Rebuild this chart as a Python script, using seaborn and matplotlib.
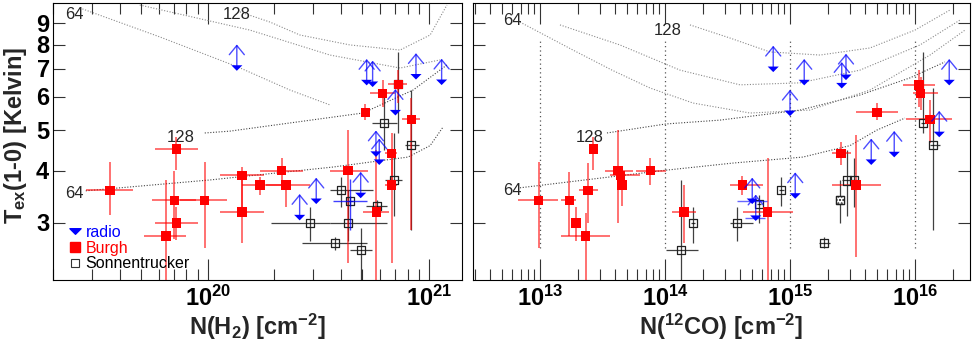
import numpy as np
import pandas as pd
import seaborn as sns
import matplotlib
matplotlib.use('Agg')
from matplotlib import pyplot as plt
from matplotlib.lines import Line2D
from matplotlib.path import Path
from matplotlib.ticker import FixedLocator, LogLocator, FuncFormatter, NullFormatter, NullLocator

# ---------------- left panel: N(H2) ----------------
h2_burgh_logN = [19.558, 19.857, 19.849, 19.985, 19.857, 19.810, 20.154, 20.154, 20.235, 20.333,
                 20.354, 20.633, 20.712, 20.790, 20.861, 20.920, 20.831, 20.831, 20.762]
h2_burgh_T = [3.59, 4.50, 3.40, 3.40, 3.00, 2.79, 3.90, 3.19, 3.70, 4.00,
              3.70, 4.00, 5.51, 6.12, 6.43, 5.30, 4.40, 3.70, 3.19]
h2_burgh_logN_lo = [19.448, 19.760, 19.747, 19.873, 19.760, 19.710, 20.054, 20.054, 20.154, 20.235,
                    20.265, 20.552, 20.695, 20.733, 20.814, 20.876, 20.801, 20.801, 20.703]
h2_burgh_logN_hi = [19.661, 19.955, 19.946, 20.086, 19.955, 19.900, 20.253, 20.253, 20.353, 20.430,
                    20.462, 20.724, 20.730, 20.846, 20.899, 20.959, 20.854, 20.854, 20.820]
h2_burgh_T_lo = [3.13, 4.01, 2.75, 2.62, 2.73, 2.15, 3.19, 2.69, 3.50, 3.74,
                 3.28, 2.41, 5.28, 5.69, 5.80, 2.89, 3.70, 2.41, 2.15]
h2_burgh_T_hi = [4.19, 4.81, 4.00, 4.19, 3.28, 3.80, 4.08, 3.90, 3.86, 4.29,
                 3.80, 5.00, 5.77, 6.58, 6.95, 5.96, 4.91, 4.40, 4.48]

h2_sonn_logN = [20.795, 20.920, 20.842, 20.763, 20.602, 20.643, 20.632, 20.575, 20.692, 20.462, 20.861]
h2_sonn_T = [5.20, 4.60, 3.80, 3.30, 3.59, 3.39, 3.00, 2.69, 2.59, 3.00, 6.43]
h2_sonn_logN_lo = [20.741, 20.891, 20.801, 20.715, 20.552, 20.630, 20.552, 20.424, 20.643, 20.284, 20.840]
h2_sonn_logN_hi = [20.854, 20.956, 20.876, 20.809, 20.747, 20.656, 20.809, 20.721, 20.741, 20.552, 20.880]
h2_sonn_T_lo = [4.48, 2.89, 3.11, 3.20, 3.28, 3.30, 2.71, 2.58, 2.15, 2.71, 4.91]
h2_sonn_T_hi = [6.00, 6.23, 4.91, 3.40, 3.87, 3.48, 3.59, 2.78, 2.92, 3.28, 7.69]

h2_radio_logN = [20.131, 20.718, 20.745, 20.941, 21.057, 20.848, 20.760, 20.775, 20.691, 20.415, 20.490]
h2_radio_T = [7.03, 6.49, 6.43, 6.70, 6.50, 5.50, 4.38, 4.19, 3.49, 3.09, 3.38]

h2_radio_det_logN = [20.643]
h2_radio_det_T = [3.39]
h2_radio_det_logN_lo = [20.564]
h2_radio_det_logN_hi = [20.718]
h2_radio_det_T_lo = [2.89]
h2_radio_det_T_hi = [3.81]

h2_curves_logN = [
    [19.448, 20.009, 20.566, 20.905, 21.005, 21.063],
    [19.986, 20.100, 20.701, 20.928, 21.081],
    [19.421, 19.783, 20.136, 20.371, 20.552],
    [20.145, 20.281, 20.416, 20.643, 20.869, 21.005, 21.081],
    [19.692, 20.190, 20.552, 20.869, 21.050],
]
h2_curves_T = [
    [3.58, 3.80, 4.08, 4.31, 4.59, 5.08],
    [4.92, 4.97, 5.49, 6.23, 7.15],
    [9.78, 8.34, 7.07, 6.23, 5.74],
    [9.57, 9.05, 8.43, 7.98, 7.76, 8.43, 9.94],
    [9.94, 8.66, 7.55, 7.03, 7.35],
]
h2_vline_logN = [20, 21]

h2_label_text = ['64', '128', '128', '64']
h2_label_logN = [19.398, 20.131, 19.878, 19.398]
h2_label_T = [9.46, 9.41, 4.81, 3.52]

# ---------------- right panel: N(12CO) ----------------
co_burgh_logN = [12.990, 13.234, 13.288, 13.366, 13.384, 13.426, 13.624, 13.642, 13.656, 13.882,
                 14.152, 14.618, 14.822, 15.408, 15.528, 15.696, 16.032, 16.046, 16.120]
co_burgh_T = [3.40, 3.40, 3.00, 2.79, 3.59, 4.50, 4.00, 3.90, 3.70, 4.00,
              3.19, 3.70, 3.19, 4.40, 3.70, 5.51, 6.41, 6.12, 5.30]
co_burgh_logN_lo = [12.824, 13.168, 13.248, 13.168, 13.312, 13.400, 13.518, 13.560, 13.620, 13.770,
                    14.058, 14.520, 14.626, 15.334, 15.334, 15.528, 15.906, 15.986, 15.928]
co_burgh_logN_hi = [13.144, 13.288, 13.328, 13.562, 13.464, 13.450, 13.744, 13.800, 13.690, 14.010,
                    14.246, 14.786, 15.022, 15.486, 15.726, 15.862, 16.160, 16.186, 16.294]
co_burgh_T_lo = [2.62, 2.79, 2.71, 2.15, 3.00, 4.01, 3.00, 3.70, 3.30, 3.70,
                 2.69, 3.50, 2.15, 4.13, 2.49, 5.27, 5.69, 5.58, 4.65]
co_burgh_T_hi = [4.19, 3.98, 3.28, 3.17, 4.17, 4.81, 5.00, 4.10, 3.87, 4.29,
                 3.70, 3.89, 4.28, 4.69, 4.87, 5.79, 6.95, 6.70, 5.90]

co_sonn_logN = [14.578, 14.752, 14.928, 15.400, 15.274, 15.454, 15.512, 16.066, 16.146, 14.130, 14.224]
co_sonn_T = [3.00, 3.33, 3.59, 3.40, 2.69, 3.79, 3.79, 5.20, 4.60, 2.59, 3.00]
co_sonn_logN_lo = [14.520, 14.735, 14.910, 15.385, 15.234, 15.420, 15.480, 16.050, 16.120, 14.006, 14.210]
co_sonn_logN_hi = [14.706, 14.770, 14.950, 15.415, 15.320, 15.490, 15.540, 16.080, 16.200, 14.264, 14.240]
co_sonn_T_lo = [2.71, 3.00, 3.30, 3.00, 2.62, 3.11, 3.28, 4.91, 2.89, 2.15, 2.69]
co_sonn_T_hi = [3.28, 3.50, 3.87, 3.80, 2.78, 4.48, 4.28, 7.69, 6.29, 3.80, 3.28]
co_sonn_hatched = [3]

co_radio_logN = [14.866, 15.114, 15.448, 15.414, 16.274, 15.000, 16.194, 15.650, 15.834, 15.042, 14.698, 14.726]
co_radio_T = [6.98, 6.49, 6.68, 6.38, 6.49, 5.48, 4.88, 4.19, 4.37, 3.48, 3.38, 3.08]

co_radio_bar_logN = [14.698, 14.726]
co_radio_bar_T = [3.38, 3.08]
co_radio_bar_logN_lo = [14.574, 14.640]
co_radio_bar_logN_hi = [14.814, 14.800]

co_curves_logN = [
    [12.84, 14.008, 14.544, 15.104, 15.48, 15.696, 15.92],
    [13.536, 14.008, 14.44, 15.08, 15.56, 15.96, 16.24],
    [12.84, 13.264, 13.576, 13.88, 14.224, 14.68, 15.16, 15.64, 16.12, 16.40],
    [13.16, 13.64, 14.12, 14.60, 15.08, 15.56, 16.04, 16.36],
    [14.2, 14.52, 14.84, 15.24, 15.64, 16.0, 16.28],
]
co_curves_T = [
    [3.64, 4.01, 4.17, 4.31, 4.59, 5.00, 5.34],
    [4.92, 5.17, 5.28, 5.58, 6.06, 6.66, 7.27],
    [9.05, 7.76, 6.95, 6.30, 5.80, 5.49, 5.58, 6.23, 7.55, 8.66],
    [8.91, 7.98, 6.95, 6.41, 6.48, 6.95, 7.98, 9.15],
    [8.91, 8.29, 7.68, 7.55, 7.85, 8.66, 9.67],
]
co_vline_logN = [13, 14, 15, 16]

co_label_text = ['64', '128', '128', '64']
co_label_logN = [12.776, 14.024, 13.40, 12.776]
co_label_T = [9.15, 8.66, 4.79, 3.58]

vline_T = [2.62, 8.3]
T_ticks = [3, 4, 5, 6, 7, 8, 9]

sns.set_theme(style='ticks')
plt.rcParams['font.family'] = ['Liberation Sans', 'DejaVu Sans']
plt.rcParams['mathtext.fontset'] = 'custom'
plt.rcParams['mathtext.rm'] = 'Liberation Sans'
plt.rcParams['mathtext.bf'] = 'Liberation Sans:bold'
plt.rcParams['mathtext.it'] = 'Liberation Sans:italic'
plt.rcParams['axes.edgecolor'] = 'black'
plt.rcParams['axes.linewidth'] = 0.8
plt.rcParams['xtick.color'] = '#333333'
plt.rcParams['ytick.color'] = '#333333'
plt.rcParams['xtick.labelcolor'] = 'black'
plt.rcParams['ytick.labelcolor'] = 'black'

tri = Path([(-1, 0.5), (1, 0.5), (0, -0.5), (-1, 0.5)],
           [Path.MOVETO, Path.LINETO, Path.LINETO, Path.CLOSEPOLY])


def frame(logN, T, lo=None, hi=None, tlo=None, thi=None):
    d = pd.DataFrame({'N': 10 ** np.array(logN), 'T': np.array(T, dtype=float)})
    if lo is not None:
        d['N_lo'] = 10 ** np.array(lo)
        d['N_hi'] = 10 ** np.array(hi)
    if tlo is not None:
        d['T_lo'] = tlo
        d['T_hi'] = thi
    return d


def draw_panel(ax, burgh, sonn, radio, curves_logN, curves_T, vlines, labels, xlim):
    ax.set_xscale('log')
    ax.set_yscale('log')

    # model tracks
    for i, (cx, cy) in enumerate(zip(curves_logN, curves_T)):
        col = '#444444' if i < 2 else '#8a8a8a'
        ax.plot(10 ** np.array(cx), cy, color=col, lw=0.8, ls=(0, (1, 1.5)), zorder=1)
    ax.vlines(10 ** np.array(vlines), vline_T[0], vline_T[1], colors='#555555',
              linestyles=(0, (1, 2.5)), lw=0.9, zorder=1)
    for txt, lx, ly in zip(*labels):
        ax.text(10 ** lx, ly, txt, fontsize=12, ha='center', va='center', zorder=2)

    # error bars
    ax.errorbar(sonn['N'], sonn['T'],
                xerr=[sonn['N'] - sonn['N_lo'], sonn['N_hi'] - sonn['N']],
                yerr=[sonn['T'] - sonn['T_lo'], sonn['T_hi'] - sonn['T']],
                fmt='none', ecolor=(0, 0, 0, 0.75), elinewidth=0.9, capsize=0, zorder=3)
    ax.errorbar(burgh['N'], burgh['T'],
                xerr=[burgh['N'] - burgh['N_lo'], burgh['N_hi'] - burgh['N']],
                yerr=[burgh['T'] - burgh['T_lo'], burgh['T_hi'] - burgh['T']],
                fmt='none', ecolor=(1, 0, 0, 0.6), elinewidth=1.3, capsize=0, zorder=3)

    sns.scatterplot(data=sonn, x='N', y='T', marker='s', s=34, facecolor='none',
                    edgecolor='#222222', linewidth=0.9, ax=ax, zorder=4)
    sns.scatterplot(data=burgh, x='N', y='T', marker='s', s=46, color='red',
                    edgecolor='none', linewidth=0, ax=ax, zorder=5)

    # radio lower limits
    sns.scatterplot(data=radio, x='N', y='T', marker=tri, s=64, color='blue',
                    edgecolor='none', linewidth=0, ax=ax, zorder=6)
    for xn, yt in zip(radio['N'], radio['T']):
        ax.annotate('', xy=(xn, yt), xytext=(0, 17), textcoords='offset points',
                    arrowprops=dict(arrowstyle='<-, head_width=0.45, head_length=0.55',
                                    color=(0, 0, 1, 0.7), lw=1.0, shrinkA=0, shrinkB=0,
                                    mutation_scale=12), zorder=6)

    ax.set_xlim(*xlim)
    ax.set_ylim(2.193, 10.05)
    ax.xaxis.set_major_locator(LogLocator(base=10, numticks=20))
    ax.xaxis.set_minor_locator(LogLocator(base=10, subs=np.arange(2, 10), numticks=20))
    ax.xaxis.set_major_formatter(FuncFormatter(lambda v, p: r'$\mathbf{10^{%d}}$' % round(np.log10(v))))
    ax.xaxis.set_minor_formatter(NullFormatter())
    ax.yaxis.set_major_locator(FixedLocator(T_ticks))
    ax.yaxis.set_minor_locator(NullLocator())
    ax.yaxis.set_major_formatter(FuncFormatter(lambda v, p: r'$\mathbf{%d}$' % round(v)))
    ax.tick_params(which='both', direction='in', top=True, right=True, width=0.8)
    ax.tick_params(axis='x', which='major', length=15, labelsize=17, pad=4)
    ax.tick_params(axis='x', which='minor', length=8)
    ax.tick_params(axis='y', which='major', length=8.5, labelsize=17, pad=2)
    ax.set_ylabel('')


fig = plt.figure(figsize=(9.73, 3.49), dpi=100)
ax1 = fig.add_axes([0.0545, 0.1977, 0.4203, 0.7937])
ax2 = fig.add_axes([0.4861, 0.1977, 0.5108, 0.7937])

h2_burgh = frame(h2_burgh_logN, h2_burgh_T, h2_burgh_logN_lo, h2_burgh_logN_hi, h2_burgh_T_lo, h2_burgh_T_hi)
h2_sonn = frame(h2_sonn_logN, h2_sonn_T, h2_sonn_logN_lo, h2_sonn_logN_hi, h2_sonn_T_lo, h2_sonn_T_hi)
h2_radio = frame(h2_radio_logN, h2_radio_T)
co_burgh = frame(co_burgh_logN, co_burgh_T, co_burgh_logN_lo, co_burgh_logN_hi, co_burgh_T_lo, co_burgh_T_hi)
co_sonn = frame(co_sonn_logN, co_sonn_T, co_sonn_logN_lo, co_sonn_logN_hi, co_sonn_T_lo, co_sonn_T_hi)
co_radio = frame(co_radio_logN, co_radio_T)

draw_panel(ax1, h2_burgh, h2_sonn, h2_radio, h2_curves_logN, h2_curves_T, h2_vline_logN,
           (h2_label_text, h2_label_logN, h2_label_T), (10 ** 19.30, 10 ** 21.149))
draw_panel(ax2, co_burgh, co_sonn, co_radio, co_curves_logN, co_curves_T, co_vline_logN,
           (co_label_text, co_label_logN, co_label_T), (10 ** 12.464, 10 ** 16.44))
ax2.tick_params(axis='y', labelleft=False)

# radio detection with blue error bars (left) and blue x-bars on two limits (right)
det = frame(h2_radio_det_logN, h2_radio_det_T, h2_radio_det_logN_lo, h2_radio_det_logN_hi,
            h2_radio_det_T_lo, h2_radio_det_T_hi)
ax1.errorbar(det['N'], det['T'], xerr=[det['N'] - det['N_lo'], det['N_hi'] - det['N']],
             yerr=[det['T'] - det['T_lo'], det['T_hi'] - det['T']],
             fmt='none', ecolor=(0, 0, 1, 0.75), elinewidth=1.0, capsize=0, zorder=5)
bars = frame(co_radio_bar_logN, co_radio_bar_T, co_radio_bar_logN_lo, co_radio_bar_logN_hi)
ax2.errorbar(bars['N'], bars['T'], xerr=[bars['N'] - bars['N_lo'], bars['N_hi'] - bars['N']],
             fmt='none', ecolor=(0, 0, 1, 0.6), elinewidth=1.0, capsize=0, zorder=5)
hat = co_sonn.iloc[co_sonn_hatched]
ax2.scatter(hat['N'], hat['T'], marker='s', s=34, facecolor='white', edgecolor='#222222',
            hatch='.....', linewidth=0.9, zorder=4)

ax1.set_xlabel(r'N(H$_{\mathbf{2}}$) [cm$^{\mathbf{-2}}$]', fontsize=17, fontweight='bold', labelpad=1)
ax2.set_xlabel(r'N($^{\mathbf{12}}$CO) [cm$^{\mathbf{-2}}$]', fontsize=17, fontweight='bold', labelpad=1)
fig.text(0.0155, 0.613, r'T$_{\mathbf{ex}}$(1-0) [Kelvin]', rotation=90, fontsize=17,
         fontweight='bold', ha='center', va='center')

handles = [
    Line2D([], [], marker=tri, color='blue', ls='none', markersize=8),
    Line2D([], [], marker='s', color='red', ls='none', markersize=7),
    Line2D([], [], marker='s', mfc='none', mec='#333333', mew=0.8, ls='none', markersize=6),
]
ax1.legend(handles, ['radio', 'Burgh', 'Sonnentrucker'], loc='lower left',
           bbox_to_anchor=(0.035, 0.025), frameon=False, fontsize=11.5,
           labelcolor=['blue', 'red', 'black'], handlelength=0.7, handletextpad=0.35,
           borderpad=0.1, labelspacing=0.05, borderaxespad=0)

fig.savefig('out.png', dpi=100)
